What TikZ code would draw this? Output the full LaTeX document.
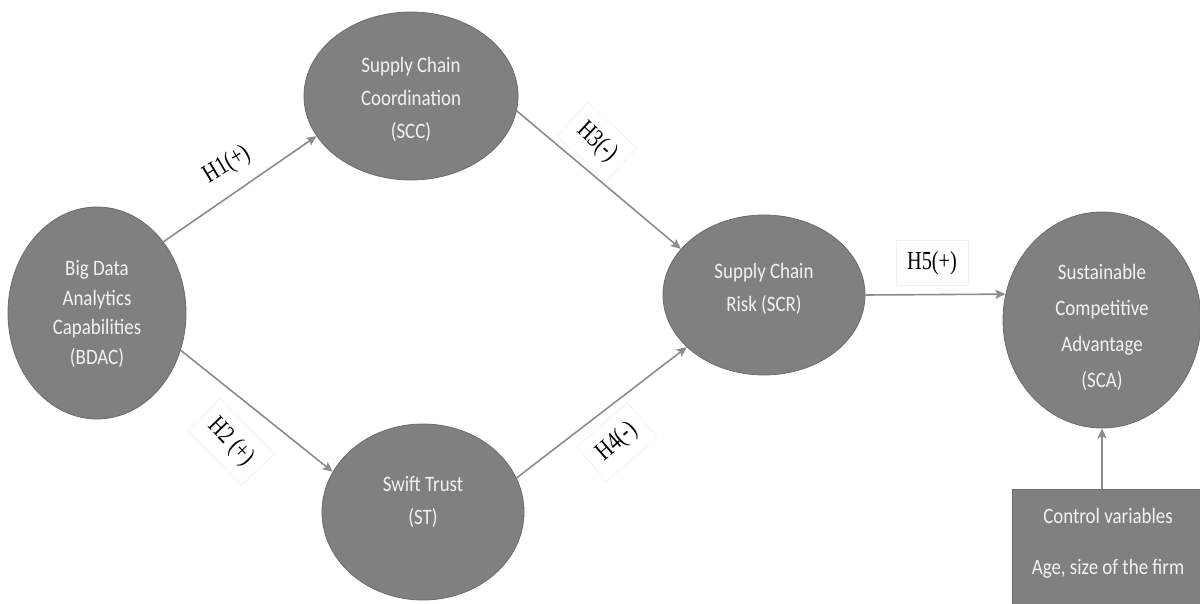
\documentclass[tikz,border=0pt]{standalone}
\usepackage{fontspec}
\newfontfamily\calfont[FakeStretch=0.86]{Carlito}
\newfontfamily\timesfont[FakeStretch=0.78]{Liberation Serif}
\usetikzlibrary{arrows.meta,shapes.geometric}
\definecolor{nodegray}{HTML}{808080}
\definecolor{edgegray}{HTML}{6C6C6C}
\definecolor{arrowgray}{HTML}{8C8C8C}
\definecolor{txtwhite}{HTML}{F2F2F2}
\definecolor{faintbox}{HTML}{F0F0F0}
\tikzset{
  construct/.style={ellipse, fill=nodegray, draw=edgegray, line width=0.8pt, inner sep=0pt},
  ctrlbox/.style={rectangle, fill=nodegray, draw=edgegray, line width=0.8pt, inner sep=0pt},
  ctext/.style={text=txtwhite, align=center, inner sep=0pt, font=\calfont\fontsize{22}{33}\selectfont},
  arr/.style={draw=arrowgray, line width=1.6pt, -{Stealth[length=10pt,width=9pt,inset=2pt]}},
  hlabel/.style={text=black, inner sep=11pt, font=\timesfont\fontsize{26}{30}\selectfont},
  hbox/.style={hlabel, draw=faintbox, line width=0.6pt}
}
\begin{document}
\begin{tikzpicture}[x=1pt,y=-1pt]
\useasboundingbox (0,0) rectangle (1200,604);
% constructs
\node[construct, minimum width=178pt, minimum height=212pt] (bdac) at (97,313) {};
\node[construct, minimum width=214pt, minimum height=168pt] (scc) at (411,96) {};
\node[construct, minimum width=202pt, minimum height=176pt] (st) at (423,512) {};
\node[construct, minimum width=202pt, minimum height=160pt] (scr) at (764,295) {};
\node[construct, minimum width=198pt, minimum height=216pt] (sca) at (1102,320) {};
\node[ctrlbox, minimum width=192pt, minimum height=130pt, anchor=north] (ctrl) at (1108,489) {};
% texts
\node[ctext, font=\calfont\fontsize{22}{29.5}\selectfont] (bdact) at (97,314) {Big Data\\Analytics\\Capabilities\\(BDAC)};
\node[ctext] (scct) at (411,99) {Supply Chain\\Coordination\\(SCC)};
\node[ctext] (stt) at (423,502) {Swift Trust\\(ST)};
\node[ctext] (scrt) at (764,289) {Supply Chain\\Risk (SCR)};
\node[ctext, font=\calfont\fontsize{22}{36}\selectfont] (scat) at (1102,327) {Sustainable\\Competitive\\Advantage\\(SCA)};
\node[ctext, font=\calfont\fontsize{22}{51}\selectfont] (ctrlt) at (1108,543) {Control variables\\Age, size of the firm};
% labels
\node[hlabel, rotate=31] (h1) at (227,165) {H1(+)};
\node[hbox, rotate=-46] (h2) at (231,442) {H2 (+)};
\node[hbox, rotate=-43] (h3) at (597,142) {H3(-)};
\node[hbox, rotate=41] (h4) at (617,442) {H4(-)};
\node[hbox] (h5) at (932,263) {H5(+)};
% connectors
\draw[arr] (bdac.47) -- (scc.-157);
\draw[arr] (bdac.-24) -- (st.156);
\draw[arr] (scc.-8) -- (scr.151);
\draw[arr] (st.20) -- (scr.-146);
\draw[arr] (scr.east) -- (sca.165);
\draw[arr] (ctrl.north -| sca.south) -- (sca.south);
\end{tikzpicture}
\end{document}
